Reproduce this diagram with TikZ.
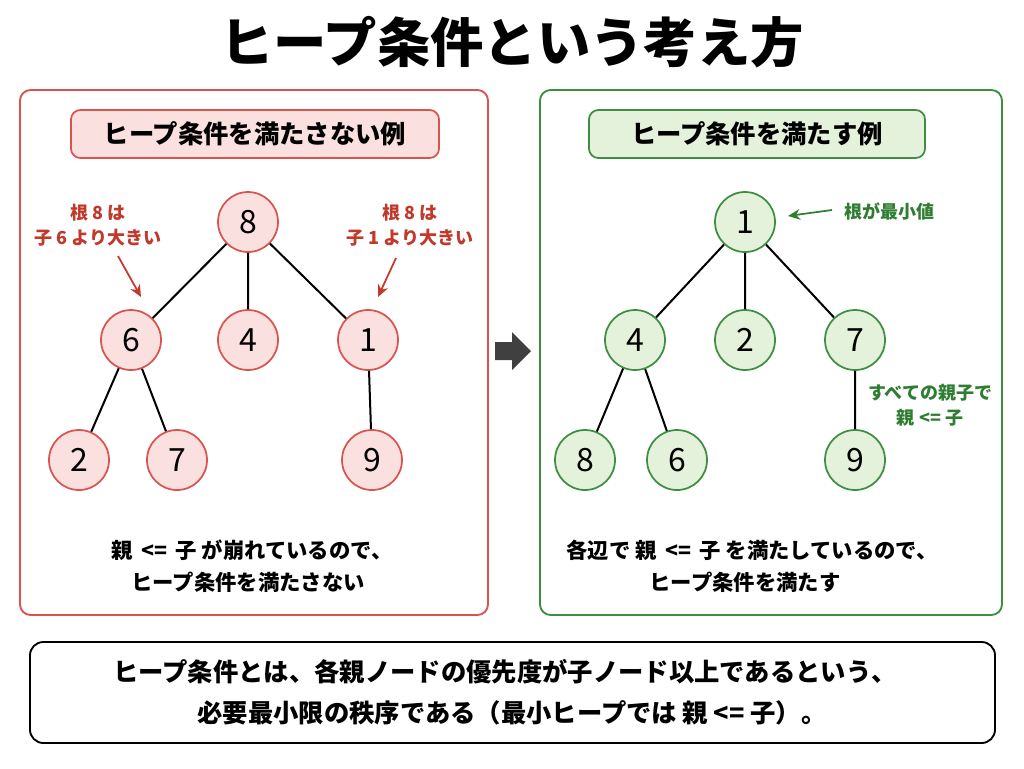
\documentclass[tikz,border=0pt]{standalone}
\usepackage{fontspec}
\setmainfont{Noto Sans CJK JP}
\usetikzlibrary{arrows.meta}
\definecolor{rd}{HTML}{D9534F}
\definecolor{rdt}{HTML}{C0392B}
\definecolor{rdf}{HTML}{FBE0E0}
\definecolor{gn}{HTML}{3E8E41}
\definecolor{gnt}{HTML}{2E7D32}
\definecolor{gnf}{HTML}{E4F2DC}
\begin{document}
\begin{tikzpicture}[x=0.75pt,y=-0.75pt,
  rn/.style={circle,draw=rd,fill=rdf,line width=1.3pt,minimum size=45pt,inner sep=0pt,font=\fontsize{24}{26}\selectfont},
  gnn/.style={circle,draw=gn,fill=gnf,line width=1.3pt,minimum size=45pt,inner sep=0pt,font=\fontsize{24}{26}\selectfont},
  ed/.style={line width=1.5pt},
  ann/.style={font=\bfseries\fontsize{13.5}{19}\selectfont,align=center},
  body/.style={font=\bfseries\fontsize{16}{20}\selectfont},
  arr/.style={-{Stealth[length=9pt,width=8pt]},line width=1.3pt}]
\useasboundingbox (0,0) rectangle (1024,768);
\node[font=\bfseries\fontsize{40}{44}\selectfont] (title) at (512,42) {ヒープ条件という考え方};
% panels
\draw[rd,line width=1.4pt,rounded corners=8pt] (20,90) rectangle (488,615);
\draw[gn,line width=1.4pt,rounded corners=8pt] (540,90) rectangle (1002,615);
\node[draw=rd,fill=rdf,line width=1.3pt,rounded corners=7pt,minimum width=276pt,minimum height=36pt,font=\bfseries\fontsize{19}{21}\selectfont] (lh) at (255,134) {ヒープ条件を満たさない例};
\node[draw=gn,fill=gnf,line width=1.3pt,rounded corners=7pt,minimum width=252pt,minimum height=36pt,font=\bfseries\fontsize{19}{21}\selectfont] (rh) at (757,134) {ヒープ条件を満たす例};
% left tree
\node[rn] (a8) at (248,222) {8};
\node[rn] (a6) at (131,340) {6};
\node[rn] (a4) at (248,340) {4};
\node[rn] (a1) at (368,340) {1};
\node[rn] (a2) at (79,460) {2};
\node[rn] (a7) at (177,460) {7};
\node[rn] (a9) at (372,460) {9};
\draw[ed] (a8)--(a6) (a8)--(a4) (a8)--(a1) (a6)--(a2) (a6)--(a7) (a1)--(a9);
\node[ann,text=rdt] (la) at (98,225) {根 8 は\\子 6 より大きい};
\node[ann,text=rdt] (ra) at (410,225) {根 8 は\\子 1 より大きい};
\coordinate (las) at (118,256); \coordinate (lae) at (141,297);
\coordinate (ras) at (396,258); \coordinate (rae) at (378,297);
\draw[arr,rdt] (las)--(lae);
\draw[arr,rdt] (ras)--(rae);
\node[body] (lt1) at (252,550) {親 \,<= \,子 が崩れているので、};
\node[body] (lt2) at (248,582) {ヒープ条件を満たさない};
% right tree
\node[gnn] (b1) at (745,222) {1};
\node[gnn] (b4) at (635,340) {4};
\node[gnn] (b2) at (745,340) {2};
\node[gnn] (b7) at (855,340) {7};
\node[gnn] (b8) at (585,460) {8};
\node[gnn] (b6) at (677,460) {6};
\node[gnn] (b9) at (855,460) {9};
\draw[ed] (b1)--(b4) (b1)--(b2) (b1)--(b7) (b4)--(b8) (b4)--(b6) (b7)--(b9);
\node[ann,text=gnt,anchor=west] (mn) at (840,211) {根が最小値};
\coordinate (ms) at (832,210); \coordinate (me) at (788,216);
\draw[arr,gnt] (ms)--(me);
\node[ann,text=gnt] (al) at (930,405) {すべての親子で\\親 <= 子};
\node[body] (rt1) at (752,550) {各辺で 親 \,<= \,子 を満たしているので、};
\node[body] (rt2) at (745,582) {ヒープ条件を満たす};
% middle arrow
\fill[black!75] (495,342) -- (512,342) -- (512,332) -- (531,351) -- (512,370) -- (512,360) -- (495,360) -- cycle;
% bottom
\draw[line width=1.4pt,rounded corners=10pt] (30,642) rectangle (995,743);
\node[font=\bfseries\fontsize{19}{22}\selectfont] (bt1) at (505,672) {ヒープ条件とは、各親ノードの優先度が子ノード以上であるという、};
\node[font=\bfseries\fontsize{19}{22}\selectfont] (bt2) at (512,713) {必要最小限の秩序である（最小ヒープでは 親 <= 子）。};
\end{tikzpicture}
\end{document}
